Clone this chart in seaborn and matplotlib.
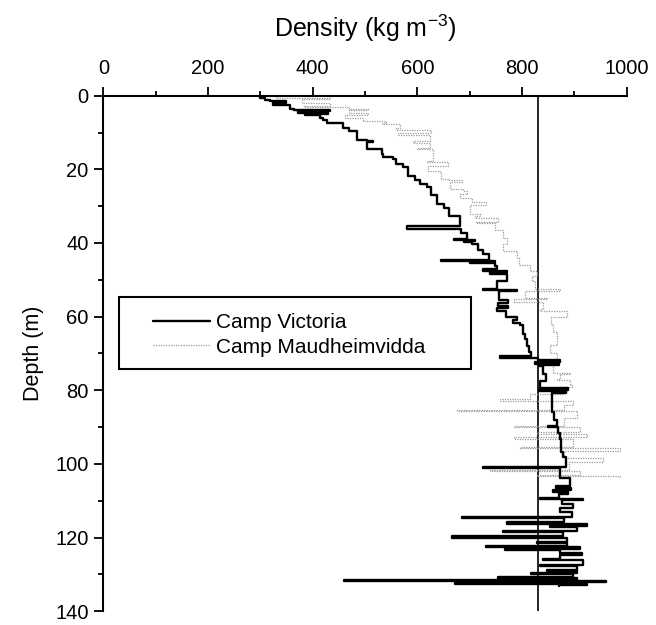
"""
Density-depth profiles, Camp Victoria vs Camp Maudheimvidda.
"""
import matplotlib
matplotlib.use("Agg")
import matplotlib.pyplot as plt
from matplotlib.patches import Rectangle
from matplotlib.ticker import MultipleLocator
import pandas as pd
import seaborn as sns

# ── data (step profiles) ────────────────────────────────────────
victoria_depth = [
    0.0, 0.7, 1.2, 1.5, 1.9, 2.5, 3.5, 3.9, 4.2, 4.6, 5.0, 5.3, 6.0, 6.5, 7.3,
    8.7, 9.6, 12.0, 12.3, 12.7, 14.4, 15.9, 16.6, 17.3, 18.5, 19.5, 21.7, 23.0,
    24.0, 24.8, 27.0, 29.3, 30.6, 32.8, 35.5, 36.3, 37.3, 38.9, 39.2, 39.5,
    39.8, 40.4, 41.8, 43.1, 44.5, 44.8, 45.1, 45.4, 46.2, 47.0, 47.5, 48.0,
    48.5, 50.2, 52.5, 52.8, 53.1, 55.6, 56.4, 57.0, 57.6, 58.4, 60.1, 61.0,
    61.8, 62.3, 64.6, 66.0, 68.0, 69.5, 70.8, 71.2, 71.8, 72.3, 72.8, 73.2,
    73.5, 75.5, 77.5, 79.3, 79.8, 80.3, 80.8, 86.0, 88.0, 89.6, 90.0, 91.5,
    93.1, 96.7, 98.0, 100.7, 101.1, 103.8, 106.1, 106.6, 107.0, 107.6, 108.2,
    109.2, 109.5, 109.8, 111.0, 112.0, 113.0, 114.5, 114.8, 115.9, 116.2,
    116.8, 117.1, 118.1, 118.4, 119.7, 120.0, 121.2, 121.5, 122.2, 122.5,
    123.0, 123.3, 124.2, 124.6, 125.7, 126.0, 127.5, 127.8, 128.8, 129.1,
    129.7, 130.0, 130.6, 130.9, 131.5, 131.8, 132.1, 132.4, 132.7, 133.0, 133.2,
]
victoria_density = [
    300, 309, 318, 350, 325, 357, 365, 433, 372, 430, 385, 414, 420, 427, 458,
    470, 484, 503, 516, 503, 532, 535, 554, 560, 573, 583, 596, 606,
    618, 627, 637, 650, 660, 681, 580, 683, 694, 670, 710, 690,
    704, 716, 726, 736, 645, 748, 700, 748, 752, 726, 772, 739,
    772, 752, 726, 790, 756, 773, 755, 774, 752, 769, 790, 783,
    796, 802, 806, 809, 813, 818, 758, 830, 873, 825, 870, 832,
    840, 845, 834, 888, 832, 885, 857, 862, 866, 850, 868, 873,
    875, 879, 884, 726, 872, 892, 865, 893, 860, 888, 870,
    834, 917, 876, 898, 873, 895, 685, 880, 771, 924,
    854, 905, 764, 879, 666, 886, 828, 886, 732, 911,
    767, 873, 915, 873, 841, 917, 834, 905, 847, 905,
    818, 898, 755, 905, 459, 960, 860, 672, 924, 870, 870,
]

maud_depth = [
    0.0, 0.5, 1.0, 2.0, 2.7, 3.0, 3.5, 4.0, 4.7, 5.2, 6.0, 7.0, 7.5, 7.8, 8.7,
    9.2, 10.1, 10.6, 12.3, 12.8, 14.1, 14.5, 17.7, 18.0, 19.0, 20.4, 21.0,
    22.6, 23.0, 23.5, 25.3, 25.8, 26.6, 27.9, 28.8, 29.7, 32.0, 32.8, 33.2,
    34.2, 34.6, 36.4, 38.7, 40.4, 42.2, 44.0, 46.0, 47.5, 49.0, 50.2, 52.5,
    53.0, 55.0, 55.3, 56.0, 58.0, 58.4, 60.0, 62.0, 64.1, 67.7, 69.9, 72.0,
    72.4, 75.2, 75.6, 76.8, 77.2, 78.6, 79.0, 80.6, 81.0, 82.4, 82.8, 84.0,
    85.3, 85.7, 87.5, 89.6, 90.0, 91.4, 91.8, 92.7, 93.1, 95.4, 95.8, 96.5,
    98.5, 99.5, 101.6, 102.0, 103.0, 103.3, 103.6,
]
maud_density = [
    330, 433, 380, 433, 383, 470, 506, 470, 506, 461, 497, 541, 532, 567, 560,
    627, 564, 625, 592, 624, 599, 630, 618, 659, 621, 643, 645,
    659, 685, 662, 688, 694, 681, 704, 732, 700, 720, 710, 755,
    713, 748, 764, 771, 764, 790, 795, 815, 829, 820, 825, 873,
    805, 848, 784, 840, 834, 886, 855, 860, 866, 853, 866, 873,
    860, 892, 873, 866, 892, 895, 873, 879, 815, 758, 898, 880,
    675, 905, 880, 784, 911, 829, 924, 784, 898, 796, 987, 880,
    955, 890, 739, 911, 828, 987, 987,
]

critical_density = 830  # vertical reference line

# ── plot ────────────────────────────────────────────────────────
sns.set_theme(style="ticks")
plt.rcParams["font.family"] = ["Liberation Sans", "DejaVu Sans"]
plt.rcParams["mathtext.default"] = "regular"
for key in ("text.color", "axes.labelcolor", "xtick.color", "ytick.color",
            "axes.edgecolor"):
    plt.rcParams[key] = "black"

df_v = pd.DataFrame({"density": victoria_density, "depth": victoria_depth})
df_m = pd.DataFrame({"density": maud_density, "depth": maud_depth})

fig = plt.figure(figsize=(6.56, 6.25), dpi=100)
ax = fig.add_axes([0.1575, 0.022, 0.7978, 0.8249])

sns.lineplot(data=df_m, x="density", y="depth", orient="y", sort=False,
             estimator=None, drawstyle="steps-pre", color="#9a9a9a",
             linestyle=(0, (1, 1)), linewidth=0.9,
             label="Camp Maudheimvidda", ax=ax)
sns.lineplot(data=df_v, x="density", y="depth", orient="y", sort=False,
             estimator=None, drawstyle="steps-pre", color="black",
             linewidth=1.7, label="Camp Victoria", ax=ax)
ax.axvline(critical_density, color="black", linewidth=1.2, zorder=1)

ax.set_xlim(0, 1000)
ax.set_ylim(140, 0)
ax.xaxis.set_major_locator(MultipleLocator(200))
ax.xaxis.set_minor_locator(MultipleLocator(100))
ax.yaxis.set_major_locator(MultipleLocator(20))
ax.yaxis.set_minor_locator(MultipleLocator(10))
ax.xaxis.tick_top()
ax.xaxis.set_label_position("top")
for side in ("right", "bottom"):
    ax.spines[side].set_visible(False)
for side in ("left", "top"):
    ax.spines[side].set_linewidth(1.5)
ax.tick_params(axis="x", which="major", direction="out", length=6.5,
               width=1.3, pad=6, labelsize=14.5)
ax.tick_params(axis="y", which="major", direction="out", length=6.5,
               width=1.3, pad=4, labelsize=14.5)
ax.tick_params(which="minor", direction="out", length=3.5, width=1.3)

ax.set_xlabel("Density (kg m$^{-3}$)", fontsize=18, labelpad=16)
ax.set_ylabel("Depth (m)", fontsize=15.5, labelpad=8)

# legend: black line first, box drawn by hand
h, l = ax.get_legend_handles_labels()
order = [l.index("Camp Victoria"), l.index("Camp Maudheimvidda")]
ax.add_patch(Rectangle((0.030, 0.4696), 0.6725, 0.139, transform=ax.transAxes,
                       facecolor="white", edgecolor="black", linewidth=1.5,
                       zorder=3))
leg = ax.legend([h[i] for i in order], [l[i] for i in order],
                loc="center left", bbox_to_anchor=(0.095, 0.536),
                frameon=False, borderpad=0, borderaxespad=0,
                handlelength=2.75, handletextpad=0.27, labelspacing=0.25,
                fontsize=15)
leg.set_zorder(4)

plt.savefig("out.png", dpi=100)
